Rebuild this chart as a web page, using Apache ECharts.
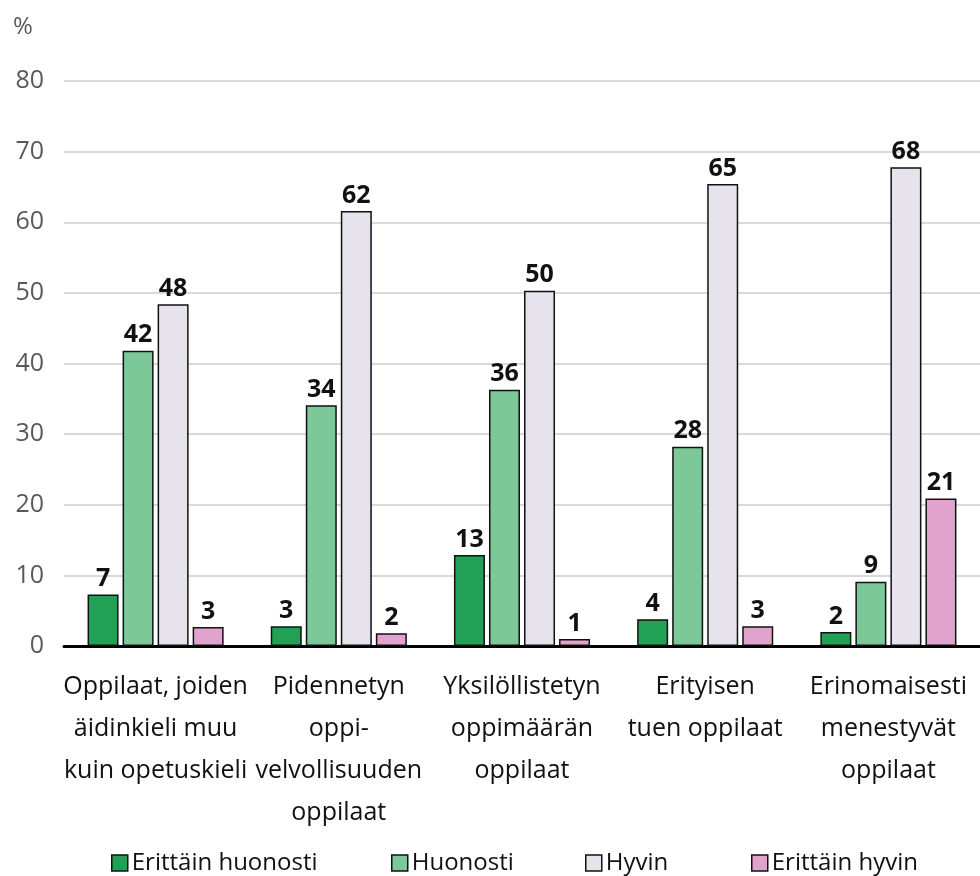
<!DOCTYPE html>
<html>
<head>
<meta charset="utf-8">
<script src="https://cdn.jsdelivr.net/npm/echarts@6/dist/echarts.min.js"></script>
<style>
  html, body { margin: 0; padding: 0; background: #fff; }
  #chart { width: 980px; height: 876px; }
</style>
</head>
<body>
<div id="chart"></div>
<script>
// categories and values
var categories = [
  "Oppilaat, joiden\näidinkieli muu\nkuin opetuskieli",
  "Pidennetyn\noppi-\nvelvollisuuden\noppilaat",
  "Yksilöllistetyn\noppimäärän\noppilaat",
  "Erityisen\ntuen oppilaat",
  "Erinomaisesti\nmenestyvät\noppilaat"
];
var seriesNames = ["Erittäin huonosti", "Huonosti", "Hyvin", "Erittäin hyvin"];
var erittainHuonosti = [7.3, 2.8, 12.9, 3.8, 2.0];
var huonosti = [41.8, 34.1, 36.3, 28.2, 9.1];
var hyvin = [48.4, 61.6, 50.3, 65.4, 67.8];
var erittainHyvin = [2.7, 1.8, 1.0, 2.8, 20.9];
var yTicks = [0, 10, 20, 30, 40, 50, 60, 70, 80];

var colors = ["#22a055", "#7cc899", "#e6e3ec", "#e0a4cc"];
var fontFam = "'Open Sans', 'Noto Sans', sans-serif";
var allData = [erittainHuonosti, huonosti, hyvin, erittainHyvin];

var chart = echarts.init(document.getElementById("chart"));

var series = allData.map(function (d, i) {
  return {
    name: seriesNames[i],
    type: "bar",
    data: d,
    barWidth: 31,
    barGap: "13%",
    itemStyle: { color: colors[i], borderColor: "#111", borderWidth: 1.5 },
    label: {
      show: true,
      position: "top",
      distance: 3,
      color: "#111",
      fontWeight: "bold",
      fontSize: 25,
      fontFamily: fontFam,
      formatter: function (p) { return Math.round(p.value); }
    }
  };
});

// one legend per item so each sits where it does in the picture
var legendLeft = [106, 386, 580, 746];
var legends = seriesNames.map(function (n, i) {
  return {
    data: [n],
    left: legendLeft[i],
    top: 846,
    itemWidth: 16,
    itemHeight: 16,
    itemGap: 4,
    icon: "rect",
    itemStyle: { borderColor: "#111", borderWidth: 1.5 },
    textStyle: { fontSize: 24, color: "#111", fontFamily: fontFam, padding: [0, 0, 0, -1] }
  };
});

chart.setOption({
  animation: false,
  backgroundColor: "#fff",
  color: colors,
  legend: legends,
  graphic: [{
    type: "text",
    left: 13,
    top: 15,
    style: { text: "%", fontSize: 24, fill: "#595959", fontFamily: fontFam }
  }],
  grid: { left: 64, right: 0, top: 81, bottom: 230 },
  xAxis: {
    type: "category",
    data: categories,
    axisTick: { show: false },
    axisLine: { lineStyle: { color: "#000", width: 3 } },
    axisLabel: {
      color: "#111",
      fontSize: 25,
      lineHeight: 42,
      margin: 20,
      interval: 0,
      fontFamily: fontFam
    }
  },
  yAxis: {
    type: "value",
    min: yTicks[0],
    max: yTicks[yTicks.length - 1],
    interval: 10,
    axisLine: { show: false },
    axisTick: { show: false },
    splitLine: { lineStyle: { color: "#d9d9d9", width: 2 } },
    axisLabel: { color: "#595959", fontSize: 25, margin: 20, fontFamily: fontFam }
  },
  series: series
});
</script>
</body>
</html>
